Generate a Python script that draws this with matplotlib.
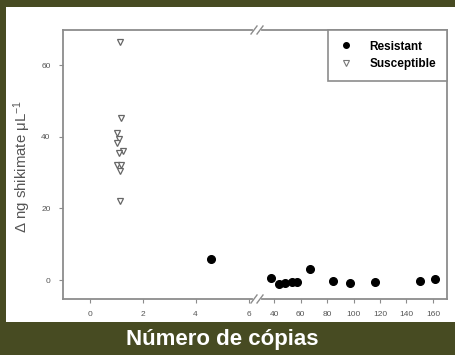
import matplotlib
matplotlib.use("Agg")
import matplotlib.pyplot as plt
from matplotlib.patches import Rectangle
from matplotlib.lines import Line2D

plt.rcParams['font.family'] = ['Liberation Sans', 'DejaVu Sans']
plt.rcParams['mathtext.fontset'] = 'custom'
plt.rcParams['mathtext.rm'] = 'Liberation Sans'
plt.rcParams['mathtext.it'] = 'Liberation Sans:italic'

# Data
sus_x = [1.15, 1.2, 1.05, 1.1, 1.05, 1.25, 1.1, 1.05, 1.2, 1.15, 1.15]
sus_y = [66.5, 45.3, 41.0, 39.5, 38.2, 36.0, 35.5, 32.0, 32.0, 30.5, 22.0]
res_low_x = [4.6]
res_low_y = [5.9]
res_x = [37.7, 44.0, 48.3, 53.3, 57.0, 67.0, 84.5, 97.0, 116.0, 150.0, 161.5]
res_y = [0.6, -1.2, -0.75, -0.5, -0.5, 3.0, -0.2, -0.75, -0.6, -0.2, 0.3]

left_ticks = [0, 2, 4, 6]
right_ticks = [40, 60, 80, 100, 120, 140, 160]
y_ticks = [0, 20, 40, 60]

W, H = 456, 355
fig = plt.figure(figsize=(W / 100, H / 100), dpi=100)
olive = '#474b22'
fig.patch.set_facecolor(olive)
fig.patches.append(Rectangle((6 / W, 1 - 322 / H), 450 / W, 315 / H,
                             transform=fig.transFigure, facecolor='white',
                             edgecolor='none', zorder=-5))

bot = 1 - 299 / H
top = 1 - 30 / H
hgt = top - bot
x1l, x1r = 63, 252
x2l, x2r = 262, 447
ax1 = fig.add_axes([x1l / W, bot, (x1r - x1l) / W, hgt])
ax2 = fig.add_axes([x2l / W, bot, (x2r - x2l) / W, hgt], sharey=ax1)

ylim = (-5.3, 69.8)
ax1.set_ylim(*ylim)
ax1.set_xlim(-1.0, 6.13)
ax2.set_xlim(30.9, 170.6)

spc = '#8c8c8c'
for ax in (ax1, ax2):
    ax.patch.set_alpha(0)
    for s in ax.spines.values():
        s.set_color(spc)
        s.set_linewidth(1.3)
    ax.tick_params(direction='out', length=3, width=0.8, color=spc,
                   labelsize=6, labelcolor='#555555', pad=6)
ax1.spines['right'].set_visible(False)
ax2.spines['left'].set_visible(False)
ax2.tick_params(axis='y', left=False, labelleft=False)
ax1.set_xticks(left_ticks)
ax2.set_xticks(right_ticks)
ax1.set_yticks(y_ticks)

ax1.plot(sus_x, sus_y, linestyle='none', marker='v', ms=4.8, mfc='white',
         mec='#666666', mew=0.9)
ax1.plot(res_low_x, res_low_y, linestyle='none', marker='o', ms=5.5,
         color='black')
ax2.plot(res_x, res_y, linestyle='none', marker='o', ms=5.5, color='black')

h1 = Line2D([], [], linestyle='none', marker='o', ms=4, color='black')
h2 = Line2D([], [], linestyle='none', marker='v', ms=4, mfc='white',
            mec='#777777', mew=0.8)
leg = ax2.legend([h1, h2], ['Resistant', 'Susceptible'], loc='upper right',
                 bbox_to_anchor=(1, 1), borderaxespad=0, fancybox=False,
                 framealpha=1, edgecolor=spc,
                 prop={'weight': 'bold', 'size': 8.5},
                 handlelength=1.2, handletextpad=1.4, borderpad=0.9,
                 labelspacing=0.45)
leg.get_frame().set_linewidth(1.2)

# break marks
for yy in (30, 299):
    for xx in (254, 260):
        fig.add_artist(Line2D([(xx - 3) / W, (xx + 3) / W],
                              [1 - (yy + 4) / H, 1 - (yy - 4) / H],
                              transform=fig.transFigure, color=spc, lw=1.0))

fig.text(22 / W, 1 - 166 / H, r'$\Delta$ ng shikimate $\mathrm{\mu L^{-1}}$',
         rotation=90, ha='center', va='center', fontsize=10.8, color='#555555')
fig.text(222 / W, 1 - 340 / H, 'Número de cópias', ha='center', va='center',
         fontsize=16, fontweight='bold', color='white')

fig.savefig('out.png', dpi=100, facecolor=fig.get_facecolor())
